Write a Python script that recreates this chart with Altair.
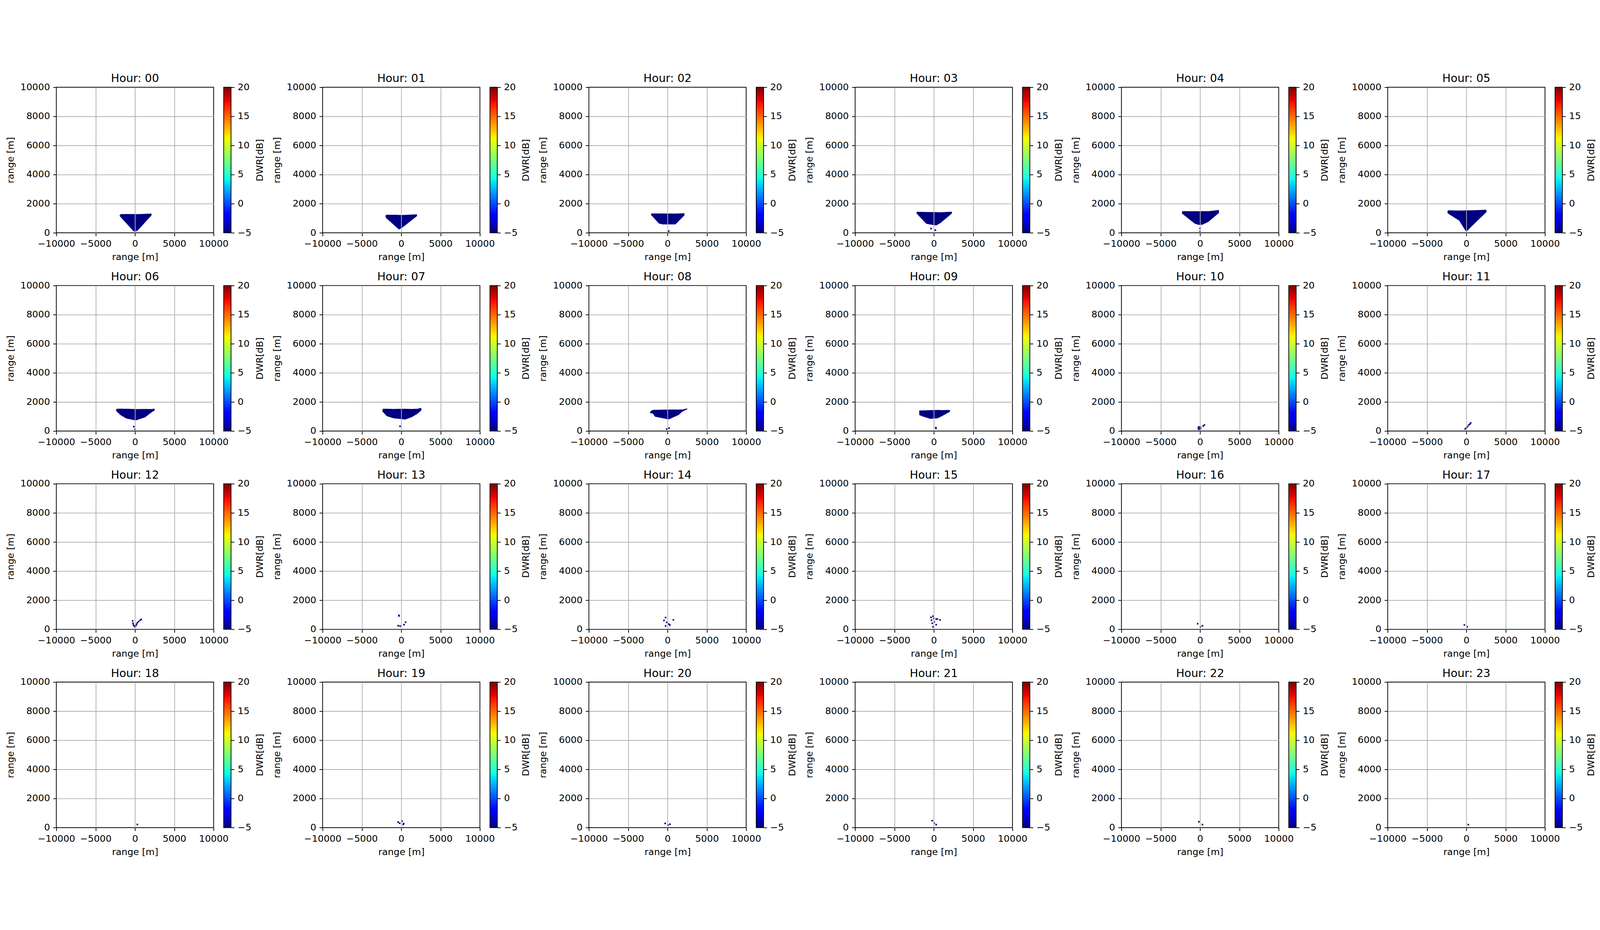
import altair as alt
import pandas as pd

# ---------------- data ----------------
HOUR_LABELS = [f"Hour: {h:02d}" for h in range(24)]

# echo blobs (filled region between BLOB_BOT and BLOB_TOP at each BLOB_X), hours 00-10
BLOB_X = [
    [-1950, -1800, -200, 0, 350, 2100],
    [-2000, -1900, -300, 100, 2000],
    [-2100, -2050, -1100, -600, 1000, 2150],
    [-2200, -2150, -950, -300, 300, 800, 2300],
    [-2300, -2250, -700, -200, 300, 1050, 2400],
    [-2400, -2350, -900, -300, 0, 150, 600, 2550],
    [-2400, -2350, -1850, -1100, 100, 1300, 2050, 2500],
    [-2400, -2350, -1850, -1000, 500, 1300, 2050, 2550],
    [-2200, -1850, -1600, 150, 1400, 1900, 2500],
    [-1850, -1400, -450, 500, 1050, 2050],
    [-300, 50, 150],
]
BLOB_TOP = [
    [1200, 1290, 1290, 1290, 1280, 1320],
    [1180, 1240, 1230, 1220, 1270],
    [1280, 1330, 1330, 1330, 1320, 1340],
    [1390, 1440, 1430, 1420, 1420, 1410, 1450],
    [1440, 1490, 1480, 1480, 1490, 1480, 1570],
    [1470, 1540, 1530, 1530, 1540, 1540, 1540, 1580],
    [1420, 1530, 1540, 1530, 1510, 1520, 1510, 1540],
    [1400, 1530, 1530, 1520, 1530, 1520, 1530, 1600],
    [1350, 1460, 1460, 1480, 1480, 1480, 1560],
    [1420, 1420, 1440, 1450, 1440, 1450],
    [330, 330, 290],
]
BLOB_BOT = [
    [1160, 1060, 120, 60, 160, 1200],
    [1100, 1000, 230, 340, 1150],
    [1240, 1200, 640, 580, 580, 1200],
    [1340, 1300, 620, 560, 500, 650, 1330],
    [1340, 1300, 640, 540, 560, 750, 1360],
    [1410, 1330, 830, 300, 60, 150, 400, 1420],
    [1380, 1360, 1100, 860, 730, 950, 1260, 1420],
    [1350, 1320, 1030, 880, 790, 950, 1180, 1420],
    [1230, 1200, 990, 800, 1100, 1340, 1500],
    [1100, 1000, 840, 880, 1030, 1330],
    [80, 60, 120],
]

# isolated echo specks per hour
SPECK_X = [
    [], [], [150], [-350, 200], [0, 0], [], [-150, 0], [-150], [-100, 200], [250, 280],
    [400, 550],
    [-150, 0, 150, 300, 450, 550],
    [-300, -250, -200, -100, 0, 100, 200, 300, 450, 650, 800],
    [-300, -300, 545, 350, -150, -400],
    [-250, -450, 740, -100, 150, 300, -250],
    [-350, -100, 450, 790, -300, -200, 300, -100, 50, 300, 0],
    [-300, 300, 50],
    [-250, 100],
    [300],
    [-400, -200, 100, 250, 300],
    [-300, 300, 50],
    [-200, 50, 300],
    [-150, 300],
    [250],
]
SPECK_Y = [
    [], [], [115], [290, 180], [100, 300], [], [305, 115], [330], [137, 200], [230, 180],
    [350, 420],
    [150, 200, 300, 420, 480, 560],
    [580, 420, 300, 230, 170, 250, 350, 450, 530, 620, 680],
    [960, 920, 490, 320, 220, 250],
    [810, 610, 650, 480, 360, 290, 230],
    [820, 900, 710, 650, 630, 415, 320, 170, 515, 700, 750],
    [385, 245, 170],
    [300, 170],
    [215],
    [380, 300, 450, 220, 280],
    [285, 230, 175],
    [475, 305, 205],
    [400, 205],
    [205],
]

X_TICKS = [-10000, -5000, 0, 5000, 10000]
Y_TICKS = [0, 2000, 4000, 6000, 8000, 10000]
CB_TICKS = [-5, 0, 5, 10, 15, 20]
CB_RANGE = [-5, 20]

# matplotlib "jet" colormap breakpoints
JET_OFFSETS = [0, 0.11, 0.125, 0.34, 0.35, 0.375, 0.64, 0.65, 0.66, 0.89, 0.91, 1.0]
JET_COLORS = ["#000080", "#0000ff", "#0000ff", "#00dbff", "#00e6f7", "#15ffe2",
              "#eeff08", "#f7f500", "#ffec00", "#ff1300", "#e80000", "#800000"]

# ---------------- styling ----------------
W, H = 470, 435
LW = 2.2
FS = 27.8
NAVY = "#000080"
CB_X0, CB_X1 = 500, 522


def x_enc():
    return alt.X(
        "x:Q",
        scale=alt.Scale(domain=[-10000, 10000], nice=False, zero=False),
        axis=alt.Axis(values=X_TICKS, format="d", title="range [m]", grid=True,
                      gridOpacity={"condition": {"test": "abs(datum.value) >= 10000", "value": 0}, "value": 1},
                      titlePadding=12, zindex=1),
    )


def y_axis():
    return alt.Axis(values=Y_TICKS, format="d", title="range [m]", grid=True,
                    gridOpacity={"condition": {"test": "datum.value <= 0 || datum.value >= 10000", "value": 0}, "value": 1},
                    titlePadding=14, zindex=1)


def y_scale():
    return alt.Scale(domain=[0, 10000], nice=False, zero=False)


def panel(h):
    layers = []
    base = alt.Chart(pd.DataFrame({"x": [0], "y": [0]})).mark_point(opacity=0).encode(
        x=x_enc(), y=alt.Y("y:Q", scale=y_scale(), axis=y_axis()))
    layers.append(base)
    if h < len(BLOB_X):
        df = pd.DataFrame({"x": BLOB_X[h], "y": BLOB_TOP[h], "bot": BLOB_BOT[h]})
        area = alt.Chart(df).mark_area(color=NAVY, opacity=1, interpolate="linear").encode(
            x=x_enc(), y=alt.Y("y:Q", scale=y_scale(), axis=y_axis()), y2="bot:Q")
        layers.append(area)
    if SPECK_X[h]:
        ds = pd.DataFrame({"x": SPECK_X[h], "y": SPECK_Y[h]})
        pts = alt.Chart(ds).mark_square(color=NAVY, size=22, opacity=1).encode(
            x=x_enc(), y=alt.Y("y:Q", scale=y_scale(), axis=y_axis()))
        layers.append(pts)
    main = alt.layer(*layers)

    grad = alt.Gradient(
        gradient="linear",
        stops=[alt.GradientStop(color=c, offset=o) for c, o in zip(JET_COLORS, JET_OFFSETS)],
        x1=0, x2=0, y1=1, y2=0,
    )
    cb = alt.Chart(pd.DataFrame({"lo": [CB_RANGE[0]], "hi": [CB_RANGE[1]]})).mark_rect(
        fill=grad, stroke="black", strokeWidth=LW).encode(
        x=alt.value(CB_X0), x2=alt.value(CB_X1),
        y=alt.Y("lo:Q", scale=alt.Scale(domain=CB_RANGE, nice=False, zero=False),
                axis=alt.Axis(orient="right", offset=CB_X1 - W, values=CB_TICKS, format="d",
                              grid=False, title="DWR[dB]", titleAngle=270, titleBaseline="top",
                              titlePadding=12)),
        y2="hi:Q",
    )
    return alt.layer(main, cb).resolve_scale(y="independent").properties(
        width=W, height=H,
        title=alt.TitleParams(HOUR_LABELS[h], fontSize=33.3, fontWeight="normal", anchor="middle",
                              frame="group", offset=0, dy=6, color="black"),
    )


# page geometry: first plot area starts at (167, 62) in the 4779 x 2382 picture
PAD_L, PAD_T = 159, 54
SVG_W, SVG_H = 4762, 2364

chart = alt.concat(*[panel(h) for h in range(24)], columns=6,
                   spacing={"row": 157.7, "column": 325.6}).properties(
    bounds="flush",
    autosize=alt.AutoSizeParams(type="none"),
    padding={"left": PAD_L, "top": PAD_T, "right": SVG_W - PAD_L, "bottom": SVG_H - PAD_T},
).configure(font="DejaVu Sans").configure_view(
    stroke="black", strokeWidth=LW
).configure_axis(
    labelFontSize=FS, titleFontSize=FS, titleFontWeight="normal",
    labelColor="black", titleColor="black", tickColor="black",
    tickSize=9.7, tickWidth=LW, labelPadding=9.7, domain=False,
    gridColor="#b0b0b0", gridWidth=LW, labelFlush=False, labelOverlap=False,
)

chart.save("out.html", embed_options={"renderer": "svg", "actions": False})
